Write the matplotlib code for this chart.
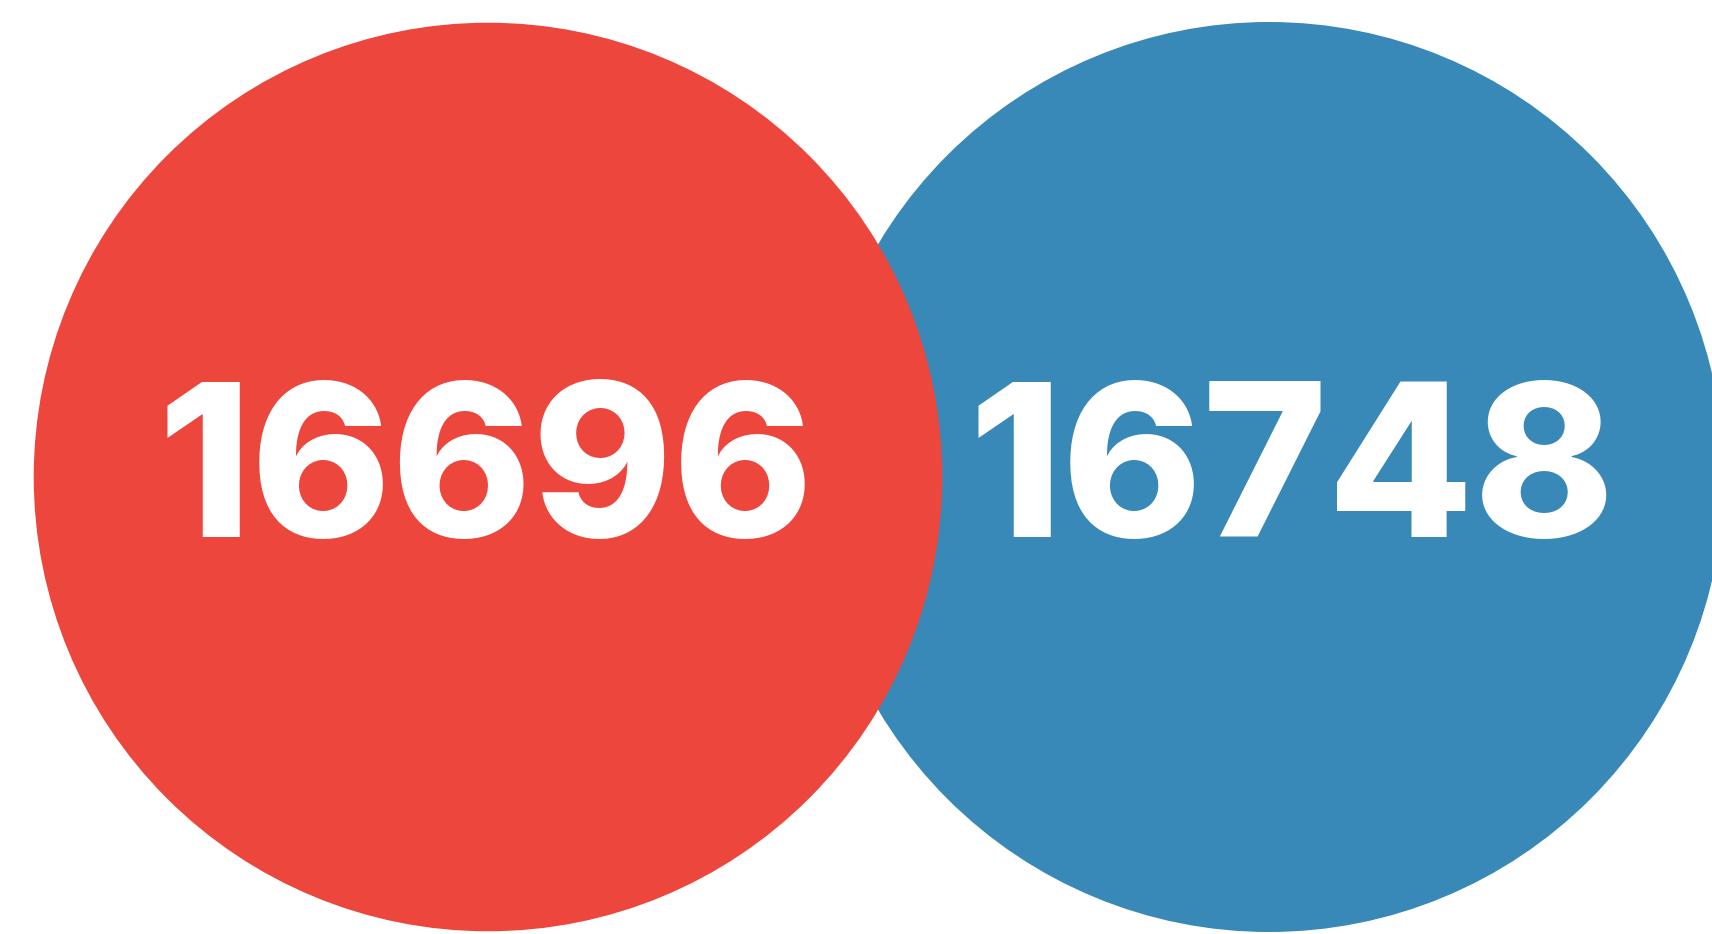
import numpy as np
import matplotlib
matplotlib.use("Agg")
import matplotlib.pyplot as plt
from matplotlib.patches import Circle

# two groups, shown as overlapping circles sized by value
values = [16696, 16748]
labels = ["16696", "16748"]
colors = ["#ED463D", "#3889B7"]

# layout (pixels, y downward)
centers_x = [488, 1269]
center_y = 477
label_x = [486, 1292]
baseline_y = 537
max_radius = 455

fig = plt.figure(figsize=(17.12, 9.34), dpi=100)
ax = fig.add_axes([0, 0, 1, 1])
ax.set_xlim(0, 1712)
ax.set_ylim(934, 0)
ax.set_aspect("equal")
ax.axis("off")

radii = max_radius * np.sqrt(np.array(values) / max(values))

# blue drawn first so the red circle sits on top
for i in [1, 0]:
    ax.add_patch(Circle((centers_x[i], center_y), radii[i], color=colors[i], lw=0, zorder=1 + (1 - i)))

for i in range(len(values)):
    ax.text(label_x[i], baseline_y, labels[i], color="white", fontsize=153,
            fontfamily="Inter", fontweight=800,
            ha="center", va="baseline", zorder=5)

fig.savefig("out.png", dpi=100, facecolor="white")
